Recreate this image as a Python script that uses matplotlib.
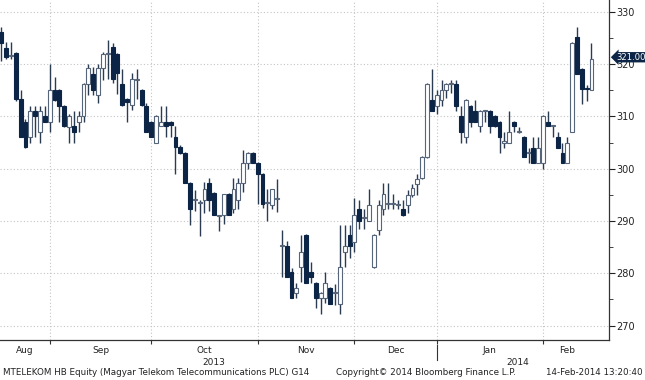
import matplotlib
matplotlib.use("Agg")
import matplotlib.pyplot as plt
import matplotlib.transforms as mtrans
from matplotlib.ticker import MultipleLocator
import pandas as pd

# trading days (Budapest holidays removed)
holidays = ["2013-08-19", "2013-08-20", "2013-10-23", "2013-11-01",
            "2013-12-24", "2013-12-25", "2013-12-26", "2013-12-27",
            "2013-12-31", "2014-01-01"]
dates = pd.bdate_range("2013-08-14", "2014-02-14", freq="C", holidays=holidays)

opens = [326.1, 323.1, 321.5, 322.1, 313.3, 308.9, 306.0, 311.0, 307.0, 310.0,
         309.0, 315.0, 315.0, 312.0, 308.0, 308.2, 309.0, 310.0, 316.2, 318.1,
         314.0, 319.2, 322.0, 323.2, 322.0, 316.2, 313.3, 312.2, 317.0, 315.0,
         312.0, 309.0, 305.0, 308.2, 309.0, 309.0, 306.0, 304.1, 303.0, 297.3,
         294.0, 293.4, 294.1, 297.2, 295.3, 291.0, 291.1, 295.1, 292.3, 294.1,
         297.2, 301.0, 303.0, 301.0, 299.0, 293.4, 293.0, 294.2, 285.2, 285.2,
         280.2, 276.2, 281.2, 287.3, 280.2, 278.1, 275.2, 275.2, 277.1, 276.2,
         274.1, 284.0, 287.3, 285.9, 292.3, 290.5, 290.0, 281.2, 288.3, 292.3,
         293.2, 293.2, 293.0, 292.3, 293.0, 295.0, 297.0, 298.2, 302.2, 313.1,
         312.0, 313.1, 315.0, 316.2, 316.2, 310.0, 306.0, 312.0, 311.0, 308.2,
         311.0, 311.0, 310.0, 309.0, 305.0, 305.0, 309.0, 307.0, 306.0, 303.0,
         304.0, 301.0, 301.0, 309.0, 308.2, 306.0, 303.0, 301.0, 307.0, 325.2,
         319.0, 315.5, 315.0]
highs = [327.0, 324.2, 324.2, 322.3, 315.0, 309.5, 312.0, 312.0, 312.0, 312.0,
         320.0, 317.5, 315.2, 312.2, 310.5, 311.0, 311.0, 316.4, 320.0, 319.5,
         320.0, 322.3, 324.6, 324.0, 322.2, 319.0, 313.5, 318.3, 319.0, 315.2,
         312.5, 309.2, 310.2, 312.0, 312.0, 309.2, 308.2, 304.5, 303.2, 297.5,
         296.0, 294.0, 297.5, 298.2, 295.5, 291.2, 295.1, 295.3, 298.2, 298.2,
         303.5, 303.2, 303.2, 301.2, 299.2, 296.2, 296.2, 298.0, 288.3, 286.1,
         281.0, 278.1, 287.3, 287.5, 282.2, 278.3, 276.4, 280.2, 277.3, 278.0,
         289.3, 289.3, 289.3, 294.3, 294.0, 292.3, 296.2, 287.5, 294.1, 297.2,
         297.2, 295.1, 294.1, 294.0, 296.0, 297.0, 299.0, 302.4, 316.4, 319.0,
         315.0, 317.0, 316.4, 317.0, 317.0, 312.0, 313.3, 312.2, 313.1, 311.2,
         311.2, 311.2, 310.2, 309.2, 307.0, 311.0, 309.2, 308.0, 306.2, 304.0,
         306.0, 306.0, 310.2, 311.0, 308.4, 307.0, 305.0, 306.0, 324.2, 327.0,
         319.2, 316.0, 324.0]
lows = [320.5, 321.0, 321.0, 313.0, 306.0, 304.0, 305.0, 306.0, 305.0, 309.0,
        307.0, 313.0, 309.0, 308.0, 305.0, 305.0, 307.0, 309.0, 314.0, 314.0,
        312.5, 317.0, 317.1, 316.3, 314.3, 312.0, 309.0, 311.2, 313.3, 312.0,
        307.0, 306.0, 305.0, 308.2, 306.0, 306.0, 299.0, 302.8, 297.3, 289.3,
        292.0, 287.2, 291.5, 292.0, 291.1, 288.0, 289.5, 291.1, 291.5, 292.3,
        295.5, 300.0, 301.0, 293.3, 292.5, 290.0, 292.3, 291.8, 279.3, 279.3,
        275.2, 275.2, 278.3, 278.1, 278.1, 273.4, 272.2, 274.3, 274.1, 274.0,
        272.2, 281.2, 283.0, 284.0, 288.5, 288.5, 290.0, 281.0, 287.3, 291.1,
        292.3, 292.3, 292.3, 291.0, 291.5, 294.5, 295.0, 298.0, 302.0, 311.0,
        310.5, 312.0, 313.5, 314.5, 311.0, 305.0, 305.0, 308.0, 309.0, 307.0,
        309.0, 306.9, 308.0, 303.0, 304.0, 305.0, 307.0, 306.8, 302.2, 301.0,
        301.0, 301.0, 300.0, 308.2, 306.0, 304.0, 301.0, 301.0, 307.0, 318.0,
        312.3, 313.0, 315.0]
closes = [324.0, 321.3, 321.8, 313.3, 306.0, 304.1, 311.0, 310.0, 311.0, 309.0,
          315.0, 313.2, 312.0, 308.2, 310.0, 307.0, 310.0, 316.2, 319.2, 315.0,
          319.2, 322.0, 322.2, 317.1, 318.3, 312.2, 312.8, 317.1, 317.2, 312.2,
          307.0, 306.0, 310.0, 309.0, 308.2, 308.3, 304.1, 303.0, 297.3, 292.3,
          294.2, 293.6, 296.2, 294.1, 291.1, 291.1, 295.1, 291.1, 296.2, 297.2,
          301.0, 303.0, 301.0, 299.0, 293.3, 293.6, 296.2, 294.4, 285.4, 279.3,
          275.2, 277.1, 284.0, 278.1, 279.3, 275.2, 276.2, 278.1, 274.1, 276.4,
          281.2, 285.2, 285.2, 291.1, 290.0, 290.7, 293.0, 287.3, 293.0, 295.1,
          293.4, 293.4, 293.2, 291.1, 295.0, 296.3, 298.0, 302.2, 316.2, 311.0,
          314.0, 315.0, 316.2, 316.4, 312.0, 307.0, 313.1, 309.0, 309.0, 311.0,
          311.2, 308.2, 308.2, 306.0, 305.2, 307.0, 308.2, 307.2, 302.2, 303.2,
          301.0, 304.0, 310.0, 308.2, 308.4, 304.0, 301.0, 305.0, 324.0, 318.1,
          315.2, 315.3, 321.0]

last_price = 321.00
ticker_text = "MTELEKOM HB Equity (Magyar Telekom Telecommunications PLC) G14"
copyright_text = "Copyright\u00a9 2014 Bloomberg Finance L.P."
stamp_text = "14-Feb-2014 13:20:40"

navy = "#0c2546"
wick_col = "#2b3b52"
edge_col = "#56657a"

fig = plt.figure(figsize=(6.45, 3.8), dpi=100)
ax = fig.add_axes([0.0, 0.105, 0.944, 0.895])

xs = list(range(len(dates)))
up = [c >= o for o, c in zip(opens, closes)]
bottoms = [min(o, c) for o, c in zip(opens, closes)]
heights = [max(abs(c - o), 0.18) for o, c in zip(opens, closes)]

ax.vlines(xs, lows, highs, color=wick_col, lw=1.0, zorder=2)
ax.bar(xs, heights, bottom=bottoms, width=0.8,
       color=["white" if u else navy for u in up],
       edgecolor=[edge_col if u else navy for u in up],
       linewidth=0.8, zorder=3)

ax.set_xlim(-0.27, 125.6)
ax.set_ylim(267.23, 332.24)

# month ends -> ticks / grid
month_ends = [i for i in range(len(dates) - 1) if dates[i].month != dates[i + 1].month]
ax.set_xticks(month_ends)
ax.set_xticklabels([])
ax.tick_params(axis="x", direction="out", length=3, color="#333333")

ax.yaxis.tick_right()
ax.yaxis.set_major_locator(MultipleLocator(10))
ax.yaxis.set_minor_locator(MultipleLocator(5))
ax.tick_params(axis="y", which="major", direction="out", length=4, labelsize=7,
               colors="#222222", pad=1)
ax.tick_params(axis="y", which="minor", direction="out", length=3, color="#222222")

ax.grid(True, which="major", linestyle=(0, (1, 2)), color="#c4c4c4", lw=0.8)
ax.set_axisbelow(True)
for s in ["top", "left"]:
    ax.spines[s].set_visible(False)
for s in ["right", "bottom"]:
    ax.spines[s].set_color("#333333")
    ax.spines[s].set_linewidth(0.9)

# month and year labels
btrans = mtrans.blended_transform_factory(ax.transData, ax.transAxes)
edges = [ax.get_xlim()[0]] + month_ends + [month_ends[-1] + 10]
month_names = ["Aug", "Sep", "Oct", "Nov", "Dec", "Jan", "Feb"]
for k, name in enumerate(month_names):
    ax.text((edges[k] + edges[k + 1]) / 2, -0.03, name, transform=btrans,
            ha="center", va="center", fontsize=6.5, color="#222222")
year_break = month_ends[4]
ax.text(year_break / 2 - 1, -0.066, "2013", transform=btrans, ha="center",
        va="center", fontsize=6.5, color="#222222")
ax.text((year_break + 123.5) / 2, -0.066, "2014", transform=btrans, ha="center",
        va="center", fontsize=6.5, color="#222222")
ax.plot([year_break, year_break], [-0.015, -0.058], transform=btrans,
        color="#333333", lw=0.8, clip_on=False)

# last price marker
rtrans = mtrans.blended_transform_factory(ax.transAxes, ax.transData)
ax.text(1.012, last_price + 0.3, f"{last_price:.2f}", transform=rtrans, ha="left",
        va="center", fontsize=6.1, color="white",
        bbox=dict(boxstyle="larrow,pad=0.08", fc=navy, ec="none"))

fig.text(0.005, 0.021, ticker_text, fontsize=6.3, color="#222222", va="center")
fig.text(0.521, 0.021, copyright_text, fontsize=6.3, color="#222222", va="center")
fig.text(0.996, 0.021, stamp_text, fontsize=6.3, color="#222222", va="center",
         ha="right")

fig.savefig("out.png", dpi=100)
